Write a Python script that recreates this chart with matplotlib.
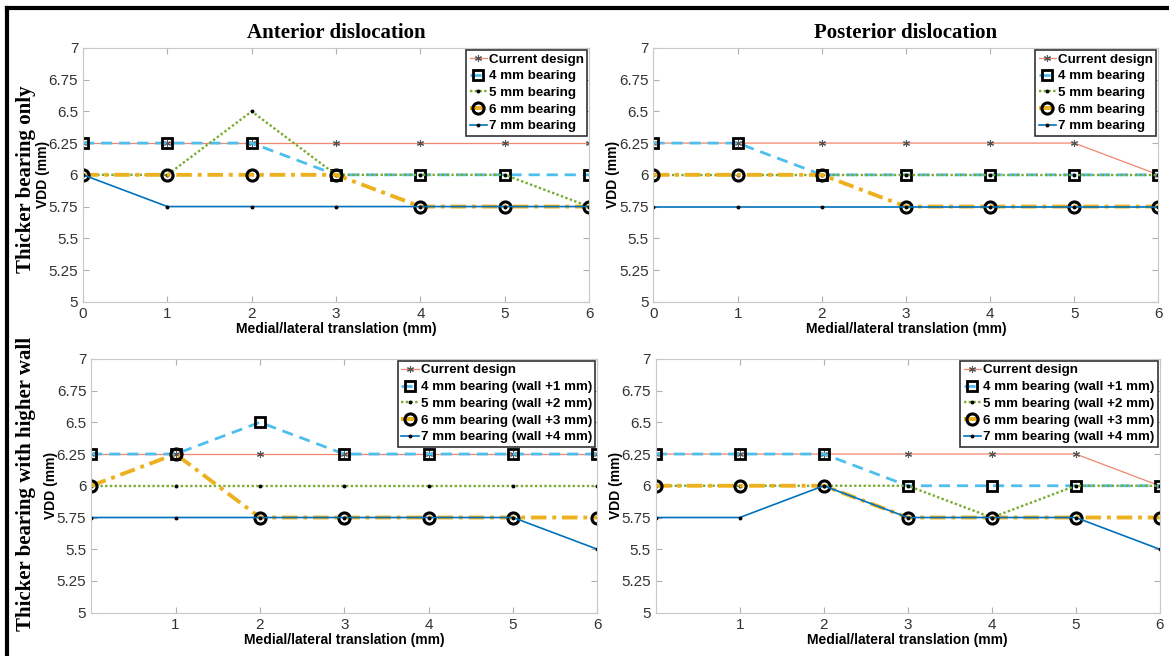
import matplotlib
matplotlib.use('Agg')
import matplotlib.pyplot as plt
from matplotlib.lines import Line2D

plt.rcParams['font.family'] = ['Liberation Sans', 'DejaVu Sans']

# 数据
x = [0, 1, 2, 3, 4, 5, 6]
yticks = [5, 5.25, 5.5, 5.75, 6, 6.25, 6.5, 6.75, 7]
yticklabels = ['5', '5.25', '5.5', '5.75', '6', '6.25', '6.5', '6.75', '7']

col_titles = ['Anterior dislocation', 'Posterior dislocation']
row_titles = ['Thicker bearing only', 'Thicker bearing with higher wall']

labels_top = ['Current design', '4 mm bearing', '5 mm bearing', '6 mm bearing', '7 mm bearing']
labels_bottom = ['Current design', '4 mm bearing (wall +1 mm)', '5 mm bearing (wall +2 mm)',
                 '6 mm bearing (wall +3 mm)', '7 mm bearing (wall +4 mm)']

# 上排：前脱位 / 后脱位
ant_only = [
    [6.25, 6.25, 6.25, 6.25, 6.25, 6.25, 6.25],
    [6.25, 6.25, 6.25, 6.0, 6.0, 6.0, 6.0],
    [6.0, 6.0, 6.5, 6.0, 6.0, 6.0, 5.75],
    [6.0, 6.0, 6.0, 6.0, 5.75, 5.75, 5.75],
    [6.0, 5.75, 5.75, 5.75, 5.75, 5.75, 5.75],
]
post_only = [
    [6.25, 6.25, 6.25, 6.25, 6.25, 6.25, 6.0],
    [6.25, 6.25, 6.0, 6.0, 6.0, 6.0, 6.0],
    [6.0, 6.0, 6.0, 6.0, 6.0, 6.0, 6.0],
    [6.0, 6.0, 6.0, 5.75, 5.75, 5.75, 5.75],
    [5.75, 5.75, 5.75, 5.75, 5.75, 5.75, 5.75],
]
# 下排：加高侧壁
ant_wall = [
    [6.25, 6.25, 6.25, 6.25, 6.25, 6.25, 6.25],
    [6.25, 6.25, 6.5, 6.25, 6.25, 6.25, 6.25],
    [6.0, 6.0, 6.0, 6.0, 6.0, 6.0, 6.0],
    [6.0, 6.25, 5.75, 5.75, 5.75, 5.75, 5.75],
    [5.75, 5.75, 5.75, 5.75, 5.75, 5.75, 5.5],
]
post_wall = [
    [6.25, 6.25, 6.25, 6.25, 6.25, 6.25, 6.0],
    [6.25, 6.25, 6.25, 6.0, 6.0, 6.0, 6.0],
    [6.0, 6.0, 6.0, 6.0, 5.75, 6.0, 6.0],
    [6.0, 6.0, 6.0, 5.75, 5.75, 5.75, 5.75],
    [5.75, 5.75, 6.0, 5.75, 5.75, 5.75, 5.5],
]

# 线型
styles = [
    dict(color='#F0876E', ls='-', lw=0.9, marker=(6, 2, 0), ms=5, mec='#555555', mew=0.8),
    dict(color='#4DBEEE', ls=(0, (4, 2.5)), lw=2.0, marker='s', ms=7, mfc='none', mec='black', mew=2.0),
    dict(color='#77AC30', ls=(0, (1, 1)), lw=1.7, marker='o', ms=2.8, mfc='black', mec='black', mew=0),
    dict(color='#EDB120', ls=(0, (4, 1.5, 1, 1.5)), lw=2.8, marker='o', ms=8, mfc='none', mec='black', mew=2.2),
    dict(color='#0072BD', ls='-', lw=1.2, marker='o', ms=2.8, mfc='black', mec='black', mew=0),
]

fig = plt.figure(figsize=(11.69, 6.56), dpi=100)

positions = [
    [0.071, 0.540, 0.433, 0.387],
    [0.559, 0.540, 0.432, 0.387],
    [0.078, 0.066, 0.433, 0.387],
    [0.561, 0.066, 0.431, 0.387],
]
datasets = [ant_only, post_only, ant_wall, post_wall]
legend_labels = [labels_top, labels_top, labels_bottom, labels_bottom]


def draw_panel(ax, data, labels, xt):
    for series, lab, st in zip(data, labels, styles):
        ax.plot(x, series, label=lab, **st)
    ax.set_xlim(0, 6)
    ax.set_ylim(5, 7)
    ax.set_xticks(xt)
    ax.set_yticks(yticks)
    ax.set_yticklabels(yticklabels)
    ax.tick_params(direction='in', top=True, right=True, length=4, width=0.8,
                   color='#b0b0b0', labelcolor='#333333', labelsize=11)
    for sp in ax.spines.values():
        sp.set_color('#c8c8c8')
        sp.set_linewidth(0.8)
    ax.set_xlabel('Medial/lateral translation (mm)', fontsize=10, fontweight='bold', labelpad=1)
    ax.set_ylabel('VDD (mm)', fontsize=10, fontweight='bold', labelpad=-1)
    leg = ax.legend(loc='upper right', prop={'weight': 'bold', 'size': 9.6},
                    fancybox=False, framealpha=1, edgecolor='#333333',
                    handlelength=1.3, handletextpad=0.15, labelspacing=0.33,
                    borderpad=0.25, borderaxespad=0.15)
    leg.get_frame().set_linewidth(1.2)


axes = []
for i, (pos, data, labs) in enumerate(zip(positions, datasets, legend_labels)):
    ax = fig.add_axes(pos)
    xt = x if i < 2 else x[1:]
    draw_panel(ax, data, labs, xt)
    axes.append(ax)

for ax, t in zip(axes[:2], col_titles):
    ax.set_title(t, family='Liberation Serif', fontsize=15, fontweight='bold', pad=7)

fig.text(0.022, 0.727, row_titles[0], rotation=90, ha='center', va='center',
         family='Liberation Serif', fontsize=15, fontweight='bold')
fig.text(0.022, 0.262, row_titles[1], rotation=90, ha='center', va='center',
         family='Liberation Serif', fontsize=15, fontweight='bold')

# 外框（上边和左边）
fig.add_artist(Line2D([0.006, 1.0], [0.988, 0.988], color='black', lw=3, transform=fig.transFigure))
fig.add_artist(Line2D([0.006, 0.006], [0.0, 0.988], color='black', lw=3, transform=fig.transFigure))

fig.savefig('out.png', dpi=100)
